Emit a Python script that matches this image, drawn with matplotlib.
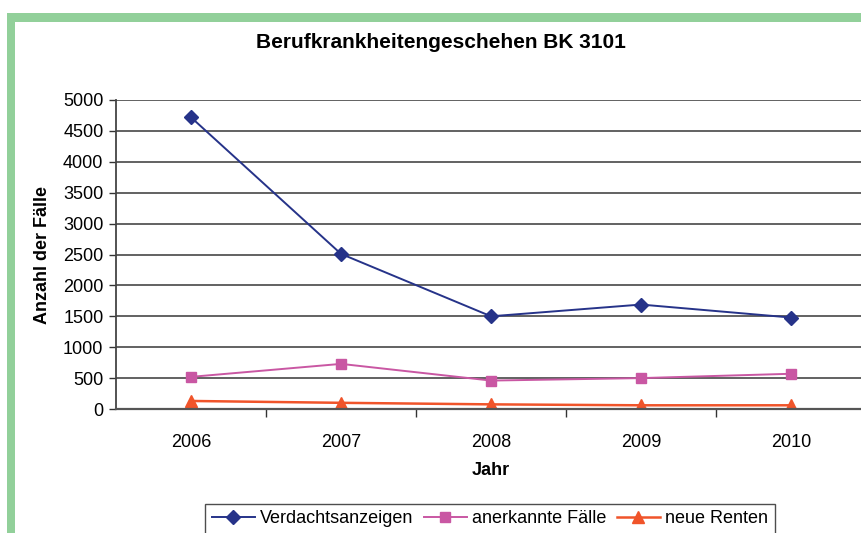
import matplotlib
matplotlib.use('Agg')
import matplotlib.pyplot as plt
from matplotlib.patches import Rectangle

plt.rcParams.update({
    'font.family': ['Liberation Sans', 'DejaVu Sans'],
    'font.size': 13,
})

# ── data ──────────────────────────────────────────────────────────────────────
years        = ['2006', '2007', '2008', '2009', '2010']
verdacht     = [4720, 2510, 1500, 1690, 1480]
anerkannt    = [520, 730, 460, 500, 570]
neue_renten  = [130, 100, 75, 60, 60]
y_ticks      = list(range(0, 5001, 500))

C_VERD = '#263389'
C_ANER = '#c957a3'
C_RENT = '#f0542a'
C_GREEN = '#92d09a'

# ── figure ────────────────────────────────────────────────────────────────────
fig = plt.figure(figsize=(8.62, 5.33), dpi=100)
W, H = 862, 533

# green frame (top and left bars)
fig.patches.append(Rectangle((7 / W, 1 - 22 / H), 1, 9 / H, transform=fig.transFigure,
                             color=C_GREEN, lw=0, zorder=0))
fig.patches.append(Rectangle((7 / W, 0), 8 / W, 1 - 13 / H, transform=fig.transFigure,
                             color=C_GREEN, lw=0, zorder=0))

ax = fig.add_axes([116 / W, 1 - 409 / H, 750 / W, 309 / H])
x = range(len(years))

ax.plot(x, verdacht, marker='D', ms=7, color=C_VERD, lw=1.4, label='Verdachtsanzeigen')
ax.plot(x, anerkannt, marker='s', ms=7.5, color=C_ANER, lw=1.4, label='anerkannte Fälle')
ax.plot(x, neue_renten, marker='^', ms=8.5, color=C_RENT, lw=1.8, label='neue Renten')

ax.set_xlim(-0.5, len(years) - 0.5)
ax.set_ylim(0, 5000)
ax.set_yticks(y_ticks)
ax.set_xticks(list(x))
ax.set_xticklabels(years)
ax.set_xticks([i + 0.5 for i in range(len(years) - 1)], minor=True)
ax.tick_params(axis='x', which='major', length=0, pad=18)
ax.tick_params(axis='x', which='minor', length=6, width=1, color='#333333', direction='out')
ax.tick_params(axis='y', length=5, width=1, color='#333333', pad=4)

ax.yaxis.grid(True, color='#555555', lw=1.3)
ax.set_axisbelow(True)
for s in ('top', 'right'):
    ax.spines[s].set_visible(False)
ax.spines['left'].set_color('#444444')
ax.spines['left'].set_linewidth(1.3)
ax.spines['bottom'].set_color('#555555')
ax.spines['bottom'].set_linewidth(1.6)

ax.set_xlabel('Jahr', fontweight='bold', labelpad=8)
ax.set_ylabel('Anzahl der Fälle', fontweight='bold', labelpad=9)

fig.text(441 / W, 1 - 42 / H, 'Berufkrankheitengeschehen BK 3101',
         ha='center', va='center', fontweight='bold', fontsize=15)

leg = fig.legend(loc='upper center', bbox_to_anchor=(490 / W, 1 - 504 / H),
                 ncol=3, frameon=True, fancybox=False, fontsize=13,
                 handlelength=2.4, handletextpad=0.3, columnspacing=0.55,
                 borderpad=0.35, borderaxespad=0)
leg.get_frame().set_edgecolor('#222222')
leg.get_frame().set_linewidth(1.0)

fig.savefig('out.png', dpi=100, facecolor='white')
